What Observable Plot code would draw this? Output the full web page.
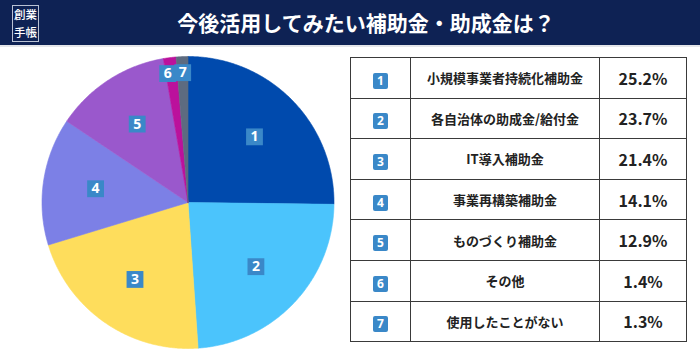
<!DOCTYPE html>
<html>
<head>
<meta charset="utf-8">
<script src="https://cdn.jsdelivr.net/npm/d3@7"></script>
<script src="https://cdn.jsdelivr.net/npm/@observablehq/plot@0.6"></script>
<style>
  html, body { margin: 0; padding: 0; background: #fff; }
  body { width: 700px; height: 356px; position: relative; overflow: hidden;
         font-family: "Noto Sans CJK JP", "Noto Sans", sans-serif; }
  #header { position: absolute; left: 0; top: 0; width: 700px; height: 45px; background: #0e2254; }
  #hline { position: absolute; left: 0; top: 45px; width: 700px; height: 2px; background: #e4e6ea; }
  #logo { position: absolute; left: 12px; top: 5px; width: 25px; height: 35px; border: 1px solid #b9c2d4;
          color: #fff; font-size: 11.5px; font-weight: 500; text-align: center; letter-spacing: 0; }
  #logo div { height: 17.5px; line-height: 17.5px; overflow: visible; }
  #title { position: absolute; left: 166px; top: 0; width: 400px; height: 45px; line-height: 45px; text-align: center;
           color: #fff; font-size: 21px; font-weight: 700; }
  #pie { position: absolute; left: 0; top: 47px; }
  #tbl { position: absolute; left: 350px; top: 57px; border-collapse: collapse; }
  #tbl td { border: 1.5px solid #3a3a3a; height: 39.6px; padding: 0; text-align: center; color: #222; font-weight: 700; }
  #tbl td.n { width: 59px; }
  #tbl td.l { width: 188px; font-size: 13px; }
  #tbl td.v { width: 86px; font-size: 16px; }
  .badge { display: inline-block; width: 15px; height: 16px; line-height: 16px; background: #3a88c8; color: #fff;
           font-size: 12px; font-weight: 700; border-radius: 2px; font-family: "Noto Sans", sans-serif; }
</style>
</head>
<body>
<div id="header"></div>
<div id="hline"></div>
<div id="logo"><div>創業</div><div>手帳</div></div>
<div id="title">今後活用してみたい補助金・助成金は？</div>
<div id="pie"></div>
<table id="tbl"></table>
<script>
const titleText = "今後活用してみたい補助金・助成金は？";
const ids = ["1", "2", "3", "4", "5", "6", "7"];
const labels = ["小規模事業者持続化補助金", "各自治体の助成金/給付金", "IT導入補助金", "事業再構築補助金", "ものづくり補助金", "その他", "使用したことがない"];
const values = [25.2, 23.7, 21.4, 14.1, 12.9, 1.4, 1.3];
const colors = ["#004aad", "#4bc4fc", "#fedd5c", "#7c80e6", "#9a58cc", "#bb119c", "#5d6b80"];

const R = 146;
const total = d3.sum(values);
const pts = [];
const labelPos = [];
let cum = 0;
values.forEach((v, i) => {
  const a0 = cum / total * 2 * Math.PI;
  cum += v;
  const a1 = cum / total * 2 * Math.PI;
  const id = ids[i];
  pts.push({id, x: 0, y: 0});
  const n = Math.max(2, Math.ceil((a1 - a0) / (Math.PI / 360)));
  for (let k = 0; k <= n; k++) {
    const a = a0 + (a1 - a0) * k / n;
    pts.push({id, x: R * Math.sin(a), y: -R * Math.cos(a)});
  }
  pts.push({id, x: 0, y: 0});
  const am = (a0 + a1) / 2;
  const rl = (v / total < 0.03) ? 0.89 * R : 0.64 * R;
  labelPos.push({id, x: rl * Math.sin(am), y: -rl * Math.cos(am)});
});
// dodge small adjacent labels so they don't overlap
for (let i = labelPos.length - 2; i >= 0; i--) {
  const a = labelPos[i], b = labelPos[i + 1];
  if (Math.abs(a.y - b.y) < 16 && Math.abs(a.x - b.x) < 15) a.x = b.x - 15;
}

const chart = Plot.plot({
  width: 350,
  height: 309,
  margin: 0,
  style: {background: "transparent"},
  x: {domain: [-187.5, 162.5], range: [0, 350], axis: null},
  y: {domain: [-155, 154], range: [0, 309], axis: null},
  color: {type: "ordinal", domain: ids, range: colors},
  marks: [
    Plot.line(pts, {x: "x", y: "y", z: "id", fill: "id", stroke: "id", strokeWidth: 0.6, curve: "linear"}),
    Plot.dot(labelPos, {x: "x", y: "y", symbol: "square", r: 9.5, fill: "#3a88c8", stroke: "none"}),
    Plot.text(labelPos, {x: "x", y: "y", text: "id", fill: "white", fontWeight: "bold", fontSize: 14,
      fontFamily: "Noto Sans, sans-serif"})
  ]
});
document.getElementById("pie").appendChild(chart);

const tbl = d3.select("#tbl");
const rows = tbl.selectAll("tr").data(ids.map((id, i) => ({id, label: labels[i], value: values[i]}))).join("tr");
rows.append("td").attr("class", "n").append("span").attr("class", "badge").text(d => d.id);
rows.append("td").attr("class", "l").text(d => d.label);
rows.append("td").attr("class", "v").text(d => d.value.toFixed(1) + "%");
</script>
</body>
</html>
